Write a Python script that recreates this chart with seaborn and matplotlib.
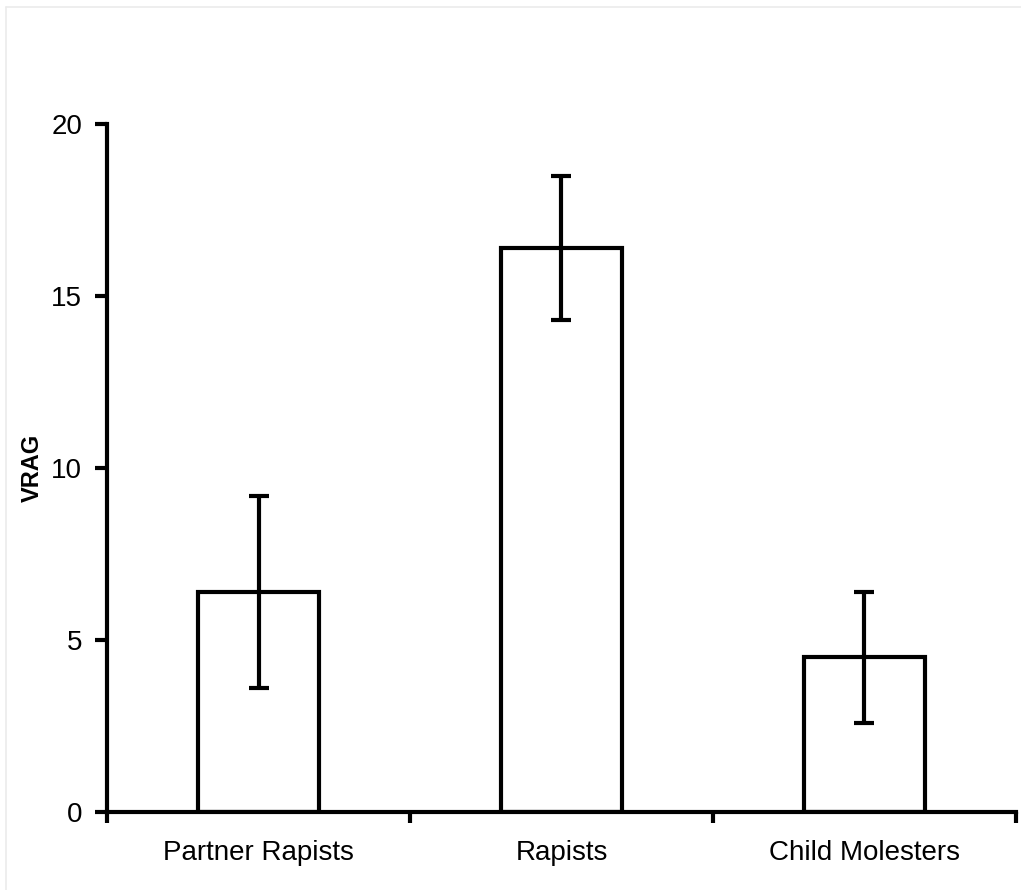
import matplotlib
matplotlib.use("Agg")
import matplotlib.pyplot as plt
import seaborn as sns
import pandas as pd
from matplotlib.lines import Line2D
from matplotlib.ticker import FixedLocator

groups = ["Partner Rapists", "Rapists", "Child Molesters"]
vrag_mean = [6.4, 16.4, 4.5]
vrag_err = [2.8, 2.1, 1.9]
y_ticks = [0, 5, 10, 15, 20]

sns.set_theme(style="white")
plt.rcParams["font.family"] = ["Liberation Sans", "DejaVu Sans"]
plt.rcParams["text.color"] = "black"
plt.rcParams["xtick.color"] = "black"
plt.rcParams["ytick.color"] = "black"
plt.rcParams["axes.labelcolor"] = "black"

df = pd.DataFrame({"group": groups, "VRAG": vrag_mean})

fig = plt.figure(figsize=(10.21, 8.90), dpi=100)
# thin page frame along the top and left edges
fig.add_artist(Line2D([0.006, 1.0], [0.992, 0.992], transform=fig.transFigure,
                      color="#ebebeb", linewidth=1.2))
fig.add_artist(Line2D([0.006, 0.006], [0.0, 0.992], transform=fig.transFigure,
                      color="#ebebeb", linewidth=1.2))

ax = fig.add_axes([0.1048, 0.0876, 0.8903, 0.7731])

sns.barplot(data=df, x="group", y="VRAG", order=groups, color="white",
            edgecolor="black", linewidth=3, width=0.40, errorbar=None, ax=ax)
ax.errorbar(range(len(groups)), vrag_mean, yerr=vrag_err, fmt="none",
            ecolor="black", elinewidth=3, capsize=7, capthick=3)

ax.set_xlim(-0.5, 2.5)
ax.set_ylim(0, 20)
ax.set_yticks(y_ticks)
ax.set_yticklabels([str(t) for t in y_ticks], fontsize=20)
ax.set_xticks(range(len(groups)))
ax.set_xticklabels(groups, fontsize=20)
ax.xaxis.set_minor_locator(FixedLocator([-0.5, 0.5, 1.5, 2.5]))

ax.tick_params(axis="x", which="major", length=0, pad=20)
ax.tick_params(axis="x", which="minor", length=8, width=3, direction="out", color="black", bottom=True)
ax.tick_params(axis="y", which="major", length=9, width=3, direction="out", color="black", left=True, pad=9)

for side in ["top", "right"]:
    ax.spines[side].set_visible(False)
for side in ["left", "bottom"]:
    ax.spines[side].set_linewidth(3)
    ax.spines[side].set_color("black")

ax.set_xlabel("")
ax.set_ylabel("VRAG", fontsize=17, fontweight="bold")
ax.yaxis.set_label_coords(-0.069, 0.5)

fig.savefig("out.png", dpi=100, facecolor="white")
